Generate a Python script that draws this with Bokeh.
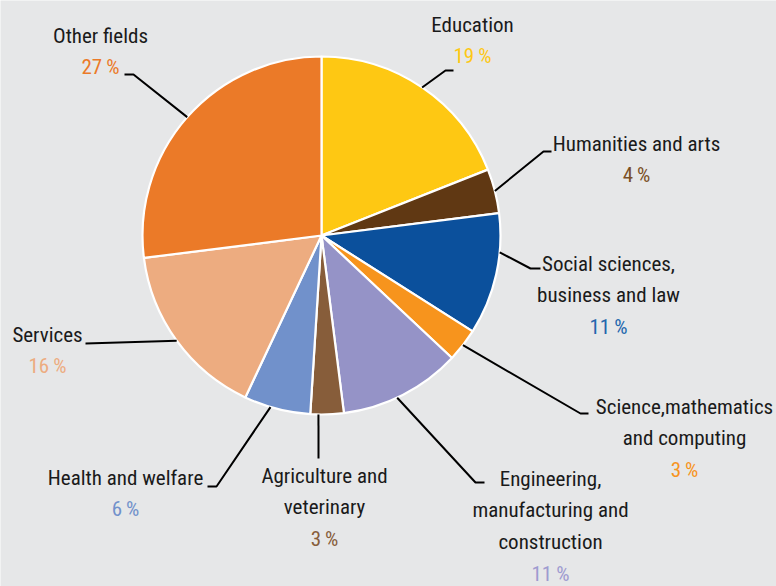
import math
from bokeh.plotting import figure
from bokeh.models import Range1d, ColumnDataSource
from bokeh.core.properties import value
from bokeh.embed import file_html
from bokeh.resources import INLINE

# ---- data ----
categories = ["Education", "Humanities and arts", "Social sciences, business and law",
              "Science, mathematics and computing", "Engineering, manufacturing and construction",
              "Agriculture and veterinary", "Health and welfare", "Services", "Other fields"]
label_lines = [["Education"], ["Humanities and arts"], ["Social sciences,", "business and law"],
               ["Science,mathematics", "and computing"],
               ["Engineering,", "manufacturing and", "construction"],
               ["Agriculture and", "veterinary"], ["Health and welfare"], ["Services"], ["Other fields"]]
shares = [19, 4, 11, 3, 11, 3, 6, 16, 27]
colors = ["#fec813", "#603813", "#0b509c", "#f7941d", "#9593c7",
          "#875d3a", "#7191cb", "#edac80", "#eb7a28"]
pct_colors = ["#fec813", "#7a4f25", "#2266ad", "#f7941d", "#9e9bd0",
              "#875d3a", "#7191cb", "#edac80", "#eb7a28"]

# ---- layout (pixel coords, y downward) ----
W, H = 776, 586
CX, CY, R = 321, 235, 179
label_pos = [(472, 24), (636, 143), (608, 263), (684, 406), (550, 478),
             (324, 475), (125, 477), (47, 334), (100, 35)]
line_step = 31.8
leader_offset = [0, 0, -2.0, 0, 0.55, 0.77, 0.6, 0, 0]
leader_elbow = [(445, 70), (543, 151), (530, 268), (580, 413), (475, 482),
                (318, 458), (216, 486), (85, 343), (133, 74)]
leader_end = [(453, 70), (551, 151), (540, 268), (588, 413), (484, 482),
              (318, 458), (207, 486), (85, 343), (124, 74)]

FONT = value("'Roboto Condensed', 'DejaVu Sans Condensed', sans-serif")
BG = "#e6e7e8"


def Y(py):
    return H - py


p = figure(width=W, height=H, x_range=Range1d(0, W), y_range=Range1d(0, H),
           output_backend="svg", toolbar_location=None, min_border=0)
p.axis.visible = False
p.grid.visible = False
p.outline_line_color = None
p.background_fill_color = BG
p.border_fill_color = BG

total = float(sum(shares))
starts, ends, mids = [], [], []
cum = 0.0
for v in shares:
    t1 = 2 * math.pi * cum / total
    cum += v
    t2 = 2 * math.pi * cum / total
    starts.append(math.pi / 2 - t1)
    ends.append(math.pi / 2 - t2)
    mids.append((t1 + t2) / 2)

src = ColumnDataSource(dict(x=[CX] * len(shares), y=[Y(CY)] * len(shares),
                            start=starts, end=ends, color=colors))
p.wedge(x="x", y="y", radius=R, start_angle="start", end_angle="end", direction="clock",
        fill_color="color", line_color="white", line_width=2.2, source=src)

# leader lines
xs, ys = [], []
for i in range(len(shares)):
    th = mids[i] + 2 * math.pi * leader_offset[i] / 100.0
    ax = CX + R * math.sin(th)
    ay = CY - R * math.cos(th)
    ex, ey = leader_elbow[i]
    fx, fy = leader_end[i]
    xs.append([ax, ex, fx])
    ys.append([Y(ay), Y(ey), Y(fy)])
p.multi_line(xs=xs, ys=ys, line_color="black", line_width=2)

# labels
tx, ty, tt = [], [], []
px, py, pt, pc = [], [], [], []
for i in range(len(shares)):
    x0, y0 = label_pos[i]
    for j, ln in enumerate(label_lines[i]):
        tx.append(x0)
        ty.append(Y(y0 + j * line_step))
        tt.append(ln)
    px.append(x0)
    py.append(Y(y0 + len(label_lines[i]) * line_step))
    pt.append(f"{shares[i]}\u2009%")
    pc.append(pct_colors[i])

p.text(x=tx, y=ty, text=tt, text_font=FONT, text_font_size="21px", text_color="#1a1a1a",
       text_align="center", text_baseline="middle")
p.text(x=px, y=py, text=pt, text_font=FONT, text_font_size="21px", text_color=pc,
       text_align="center", text_baseline="middle")

open("out.html", "w").write(file_html(p, INLINE))
